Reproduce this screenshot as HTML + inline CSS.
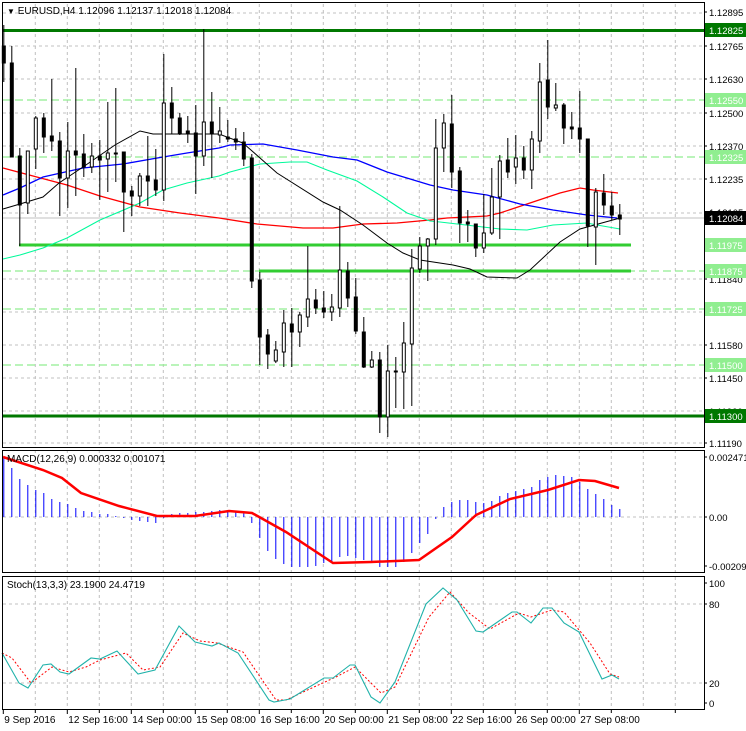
<!DOCTYPE html>
<html><head><meta charset="utf-8"><style>
html,body{margin:0;padding:0;background:#fff}
svg{display:block}
text{font-family:"Liberation Sans",sans-serif;font-size:10px}
text.ax{font-size:9.5px}
</style></head><body>
<svg id="s" width="746" height="731" xmlns="http://www.w3.org/2000/svg"></svg>
<script>
const S=document.getElementById('s');let h='';
const X0=3.3,R=704;
let g='';
for(let x=X0+32;x<R;x+=32){g+=`<line x1="${x}" y1="4" x2="${x}" y2="447" />`;g+=`<line x1="${x}" y1="450" x2="${x}" y2="572" />`;g+=`<line x1="${x}" y1="577" x2="${x}" y2="709" />`;}
[13,46,79,113,146,179,213,279,312,345,378,411,443].forEach(y=>g+=`<line x1="3" y1="${y}" x2="${R}" y2="${y}"/>`);
[517,604,683].forEach(y=>g+=`<line x1="3" y1="${y}" x2="${R}" y2="${y}"/>`);
h+=`<g stroke="#c0c0c0" stroke-dasharray="3,3" stroke-width="1">${g}</g>`;
[100,157,271,309,365].forEach(y=>h+=`<line x1="3" y1="${y}" x2="${R}" y2="${y}" stroke="#90ee90" stroke-width="1.3" stroke-dasharray="8,4"/>`);
h+=`<line x1="3" y1="218" x2="${R}" y2="218" stroke="#c0c0c0"/>`;
h+=`<line x1="3" y1="30.5" x2="${R}" y2="30.5" stroke="#007800" stroke-width="3"/>`;
h+=`<line x1="3" y1="416" x2="${R}" y2="416" stroke="#007800" stroke-width="3"/>`;
h+=`<line x1="19" y1="245" x2="631" y2="245" stroke="#32cd32" stroke-width="3"/>`;
h+=`<line x1="259" y1="271" x2="631" y2="271" stroke="#32cd32" stroke-width="3"/>`;
function pl(p,c,w,d){return `<polyline fill="none" stroke="${c}" stroke-width="${w}" ${d?'stroke-dasharray="'+d+'"':''} points="${p.map(a=>a.join(',')).join(' ')}"/>`}
h+=pl([[3,168],[33,176],[67,185],[100,196],[140,207],[180,213],[219,218],[257,224],[303,228],[333,228],[363,224],[397,223],[430,220],[447,218],[487,216],[500,213],[530,203],[560,193],[580,188],[593,190],[618,193]],'#ff0000',1.3);
h+=pl([[3,259],[20,255],[43,248],[67,238],[100,220],[140,203],[163,190],[187,183],[219,176],[230,172],[260,164],[290,162],[307,162],[327,170],[357,181],[383,197],[407,213],[430,221],[440,222],[500,229],[527,230],[553,225],[587,223],[597,225],[620,229]],'#00fa9a',1.1);
h+=pl([[3,195],[20,188],[43,177],[83,168],[123,164],[163,157],[187,153],[219,148],[230,145],[263,144],[297,150],[333,157],[357,160],[387,172],[430,185],[453,190],[487,195],[520,204],[553,210],[587,215],[617,218]],'#0000ff',1.3);
h+=pl([[3,209],[20,204],[43,197],[59,183],[83,167],[115,145],[140,131],[153,134],[163,134],[219,134],[243,143],[277,173],[323,202],[340,210],[363,225],[387,243],[403,253],[420,260],[453,265],[470,269],[487,277],[517,278],[530,270],[560,242],[580,229],[620,218]],'#000',1);
const C=[[46,63,25,82,0],[63,157,46,157,0],[156,205,148,246,0],[151,203,151,214,1],[118,149,116,169,1],[118,137,113,153,0],[136,141,79,151,0],[141,178,132,216,0],[151,178,122,208,1],[151,155,68,196,0],[154,167,134,177,0],[156,167,143,173,1],[156,160,140,200,0],[153,159,102,192,1],[153,153.5,88,182,0],[152,192,152,232,0],[191,196,186,216,0],[176,196,173,206,1],[176,181,136,206,0],[180,190,149,196,0],[103,190,54,201,1],[103,118,87,134,0],[118,133,113,135,0],[131,134,116,143,0],[133,156,105,194,0],[122,156,29,166,1],[122,134,92,178,0],[131,135,107,143,1],[137,139,120,142,0],[139,142,128,150,0],[142,159,132,166,0],[158,281,154,288,0],[280,337,272,365,0],[335,354,329,369,0],[350,361,341,363,1],[323,352,310,367,1],[324,332,308,367,0],[315,332,312,347,1],[299,317,246,327,1],[300,308,289,314,0],[308,312,291,318,0],[307,312,294,321,1],[270,308,206,317,1],[271,298,262,307,0],[297,331,278,334,0],[332,367,317,368,0],[360,367,351,368,1],[360,417,352,433,0],[371,417,345,437,1],[371,371.5,357,408,0],[343,372,322,409,1],[268,344,249,406,1],[246,269,237,273,1],[239,246,238,281,1],[148,239,119,245,1],[123,148,114,172,1],[124,172,95,188,0],[171,223,167,243,0],[222,224,210,242,0],[224,248,224,257,0],[233,248,194,253,1],[197,233,168,235,1],[161,197,155,239,1],[160,172,138,178,0],[158,167,135,184,1],[158,170,146,179,0],[139,170,131,189,1],[82,141,63,153,1],[80,107,40,119,0],[105,108,83,111,1],[105,128,103,144,0],[127,129,112,139,0],[128,139,91,153,0],[139,226,139,247,0],[192,227,188,265,1],[193,205,174,215,0],[206,215,192,220,0],[215,219,204,235,0]];
C.forEach((c,i)=>{const x=X0+8*i+0.5;h+=`<line x1="${x}" y1="${c[2]}" x2="${x}" y2="${c[3]}" stroke="#000"/>`;
const bh=Math.max(1,c[1]-c[0]);h+=`<rect x="${x-1.5}" y="${c[0]}" width="3" height="${bh}" fill="${c[4]?'#fff':'#000'}" stroke="#000" stroke-width="1"/>`;});
const M={0:458,1:468,2:479,3:485,4:490,5:493,6:499,7:502,8:504,9:508,10:511,11:512,12:514,13:514,14:516,15:518,16:520,17:521,18:522,19:523,20:518,21:514,22:513,23:513,24:512,25:512,26:511,27:510,28:511,29:512,30:512,31:523,32:538,33:551,34:559,35:564,36:567,37:567,38:567,39:566,40:563,41:561,42:557,43:556,44:558,45:560,46:563,47:567,48:567,49:567,50:562,51:553,52:543,53:534,54:519,55:507,56:502,57:500,58:500,59:502,60:503,61:501,62:496,63:493,64:491,65:489,66:487,67:480,68:477,69:475,70:476,71:477,72:482,73:489,74:494,75:499,76:505,77:509};
for(let i=0;i<78;i++){const x=X0+8*i+0.5;h+=`<line x1="${x}" y1="517" x2="${x}" y2="${M[i]}" stroke="#0000ff"/>`;}
h+=pl([[3,457],[43,470],[62,478],[81,493],[119,506],[157,516],[195,516],[229,511],[252,513],[286,532],[333,563],[371,562],[419,560],[452,537],[476,515],[510,499],[548,490],[579,480],[595,481],[619,488]],'#ff0000',2.5);
h+=pl([[2,653],[12,658],[31,683],[52,667],[69,672],[86,667],[100,660],[126,653],[143,670],[160,667],[183,633],[200,641],[217,643],[243,652],[276,700],[286,700],[314,687],[336,677],[355,667],[381,693],[395,687],[429,617],[450,592],[469,613],[490,629],[519,613],[531,617],[552,610],[564,612],[590,643],[610,674],[619,677]],'#ff0000',1,'2,2');
h+=pl([[2,653],[19,683],[28,688],[43,665],[51,664],[60,672],[69,674],[91,658],[100,659],[117,651],[138,674],[155,670],[179,626],[195,642],[212,646],[219,643],[238,653],[269,700],[274,702],[290,699],[324,678],[333,678],[350,665],[355,665],[371,697],[380,703],[395,682],[426,604],[443,588],[457,600],[476,631],[483,632],[512,612],[517,612],[531,623],[543,608],[552,608],[564,623],[579,632],[602,679],[612,675],[619,679]],'#20b2aa',1.1);
h+=`<g fill="none" stroke="#000" stroke-width="1"><rect x="2.5" y="2.5" width="${R-2}" height="445"/><rect x="2.5" y="450.5" width="${R-2}" height="122"/><rect x="2.5" y="576.5" width="${R-2}" height="133"/></g>`;
const L=[[12,'1.12895'],[46,'1.12765'],[79,'1.12630'],[113,'1.12500'],[146,'1.12370'],[179,'1.12235'],[212,'1.12105'],[279,'1.11840'],[312,'1.11710'],[345,'1.11580'],[378,'1.11450'],[411,'1.11320'],[443,'1.11190'],[457,'0.002471'],[517,'0.00'],[566,'-0.002094'],[583,'100'],[604,'80'],[683,'20'],[703,'0']];
L.forEach(l=>{h+=`<line x1="${R}" y1="${l[0]}" x2="${R+3}" y2="${l[0]}" stroke="#000"/><text class="ax" x="709" y="${l[0]+4}" fill="#000">${l[1]}</text>`;});
const B=[[30,'1.12825','#007800'],[100,'1.12550','#90ee90'],[157,'1.12325','#90ee90'],[218,'1.12084','#000'],[245,'1.11975','#90ee90'],[271,'1.11875','#90ee90'],[309,'1.11725','#90ee90'],[365,'1.11500','#90ee90'],[416,'1.11300','#007800']];
B.forEach(b=>{h+=`<rect x="705" y="${b[0]-7}" width="41" height="14" fill="${b[2]}"/><text class="ax" x="709" y="${b[0]+4}" fill="#fff">${b[1]}</text>`;});
const T=['9 Sep 2016','12 Sep 16:00','14 Sep 00:00','15 Sep 08:00','16 Sep 16:00','20 Sep 00:00','21 Sep 08:00','22 Sep 16:00','26 Sep 00:00','27 Sep 08:00'];
T.forEach((t,i)=>{const x=X0+64*i;h+=`<line x1="${x}" y1="710" x2="${x}" y2="714" stroke="#000"/><text x="${x+1}" y="723" fill="#000">${t}</text>`;});
for(let x=X0+32;x<R;x+=64)h+=`<line x1="${x}" y1="710" x2="${x}" y2="713" stroke="#000"/>`;
h+=`<text x="7" y="14" fill="#000"><tspan font-size="8">▼</tspan> EURUSD,H4  1.12096 1.12137 1.12018 1.12084</text>`;
h+=`<text x="7" y="462" fill="#000">MACD(12,26,9) 0.000332 0.001071</text>`;
h+=`<text x="7" y="588" fill="#000">Stoch(13,3,3) 23.1900 24.4719</text>`;
S.innerHTML=h;
</script>
</body></html>
